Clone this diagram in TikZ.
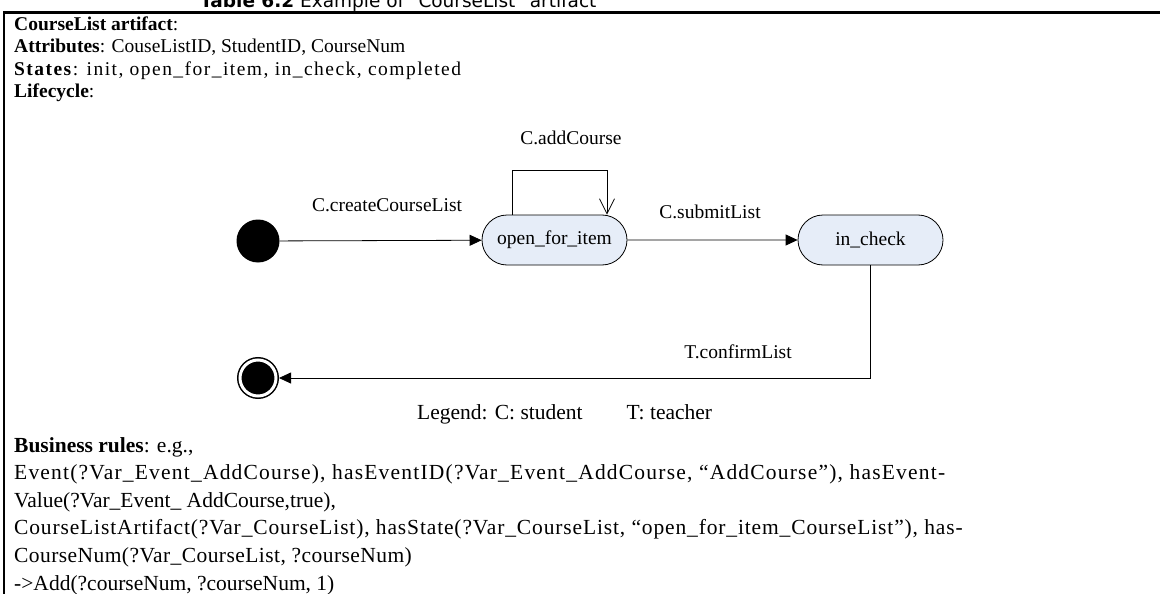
\documentclass[tikz,border=0pt]{standalone}
\usepackage{fontspec}
\setmainfont{Liberation Serif}
\newfontfamily\capfont{DejaVu Sans}
\usetikzlibrary{arrows.meta,shapes.misc}
\definecolor{statefill}{RGB}{230,237,248}
\begin{document}
\begin{tikzpicture}[x=1pt,y=-1pt,
  toptxt/.style={anchor=base west,inner sep=0pt,font=\fontsize{19.5}{23}\selectfont},
  bottxt/.style={anchor=base west,inner sep=0pt,font=\fontsize{21.5}{26}\selectfont},
  lbl/.style={inner sep=0pt,font=\fontsize{19.5}{23}\selectfont},
  state/.style={rounded rectangle,draw,line width=0.8pt,fill=statefill,minimum height=50pt,inner sep=0pt,font=\fontsize{19.5}{23}\selectfont},
  arr/.style={line width=0.8pt,-{Triangle[length=12pt,width=11pt]}},
  openarr/.style={line width=0.8pt,-{Straight Barb[length=15pt,width=15pt]}},
  frameline/.style={line width=2.2pt}]
\useasboundingbox (0,0) rectangle (1160,594);
% caption (cut at the top)
\node[anchor=base west,inner sep=0pt,font=\capfont\fontsize{18.5}{22}\selectfont] (cap) at (200,8) {\textbf{Table 6.2} Example of "CourseList" artifact};
% frame
\coordinate (fbl) at (4,600);
\coordinate (ftl) at (4,12.5);
\coordinate (ftr) at (1165,12.5);
\draw[frameline] (fbl) -- (ftl) -- (ftr);
% header text
\node[toptxt] (l1) at (14,30.5) {\textbf{CourseList artifact}:};
\node[toptxt] (l2) at (14,53) {\textbf{Attributes}: CouseListID, StudentID, CourseNum};
\node[toptxt] (l3) at (14,75.5) {\addfontfeatures{LetterSpace=7.5}\textbf{States}: init, open\_for\_item, in\_check, completed};
\node[toptxt] (l4) at (14,98) {\textbf{Lifecycle}:};
% states
\node[circle,fill=black,minimum size=43pt,inner sep=0pt] (ini) at (258,241) {};
\node[state,minimum width=145pt] (ofi) at (554.5,240) {open\_for\_item};
\node[state,minimum width=145pt] (ick) at (870.5,240) {in\_check};
\node[circle,draw=black,fill=black,line width=1.5pt,double=white,double distance=3pt,minimum size=36pt,inner sep=0pt,outer sep=3pt] (fin) at (258,378) {};
% transitions
\draw[arr] (ini) -- (ofi);
\draw[arr] (ofi) -- (ick);
\draw[arr] (ick.south) |- (fin);
\draw[openarr] ([xshift=-42.5pt]ofi.north) -- ++(0,-44) -| ([xshift=52.5pt]ofi.north);
% labels
\node[lbl] (la) at (571,138) {C.addCourse};
\node[lbl] (lc) at (387,205) {C.createCourseList};
\node[lbl] (ls) at (710,212) {C.submitList};
\node[lbl] (lt) at (738,352) {T.confirmList};
\node[anchor=base west,inner sep=0pt,font=\fontsize{21.5}{25}\selectfont] (leg) at (417,419) {Legend: C: student\hspace{44pt}T: teacher};
% business rules
\node[bottxt] (b1) at (14,452) {\textbf{Business rules}: e.g.,};
\node[bottxt] (b2) at (14,479.5) {\addfontfeatures{LetterSpace=5.6}Event(?Var\_Event\_AddCourse), hasEventID(?Var\_Event\_AddCourse, “AddCourse”), hasEvent-};
\node[bottxt] (b3) at (14,507) {Value(?Var\_Event\_ AddCourse,true),};
\node[bottxt] (b4) at (14,534.5) {\addfontfeatures{LetterSpace=4}CourseListArtifact(?Var\_CourseList), hasState(?Var\_CourseList, “open\_for\_item\_CourseList”), has-};
\node[bottxt] (b5) at (14,562) {\addfontfeatures{LetterSpace=2}CourseNum(?Var\_CourseList, ?courseNum)};
\node[bottxt] (b6) at (14,590) {->Add(?courseNum, ?courseNum, 1)};
\end{tikzpicture}
\end{document}
